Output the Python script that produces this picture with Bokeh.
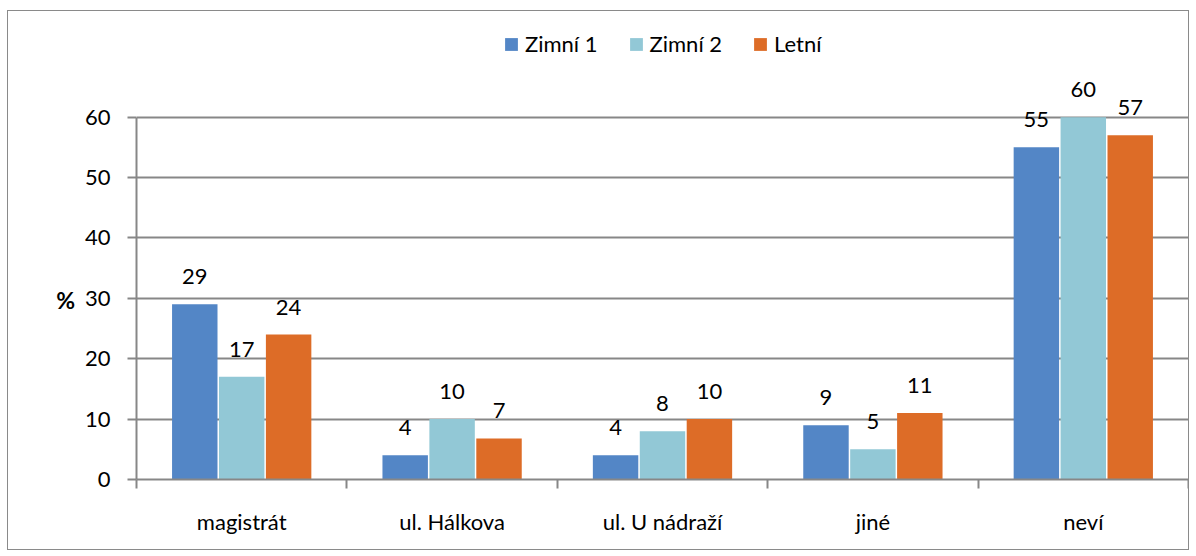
from bokeh.plotting import figure
from bokeh.models import (ColumnDataSource, Range1d, FixedTicker, LabelSet,
                          Legend, LegendItem)
from bokeh.core.properties import value
from bokeh.transform import dodge
from bokeh.embed import file_html
from bokeh.resources import INLINE

# ---- data ----
categories = ["magistrát", "ul. Hálkova", "ul. U nádraží", "jiné", "neví"]
zimni_1 = [29, 4, 4, 9, 55]
zimni_2 = [17, 10, 8, 5, 60]
letni = [24, 6.8, 10, 11, 57]
series_names = ["Zimní 1", "Zimní 2", "Letní"]
series_colors = ["#5386C6", "#92C8D6", "#DD6C27"]
y_ticks = [0, 10, 20, 30, 40, 50, 60]

FONT = "Lato"
GRAY = "#878787"

xs = [i + 0.5 for i in range(len(categories))]
data = dict(x=xs)
for name, vals in zip(["s0", "s1", "s2"], [zimni_1, zimni_2, letni]):
    data[name] = vals
    data[name + "_lbl"] = [str(int(round(v))) for v in vals]
source = ColumnDataSource(data)

p = figure(width=1182, height=540, output_backend="svg", toolbar_location=None,
           x_range=Range1d(0, len(categories)), y_range=Range1d(0, 76),
           min_border_left=128, min_border_right=2, min_border_top=9,
           min_border_bottom=72)
p.outline_line_color = None
p.styles = {"margin-left": "7px", "margin-top": "10px", "border": "1px solid #8a8a8a"}

offsets = [-0.223, 0.0, 0.223]
renderers = []
for k, (col, color, off) in enumerate(zip(["s0", "s1", "s2"], series_colors, offsets)):
    r = p.vbar(x=dodge("x", off, range=p.x_range), top=col, width=0.216, bottom=0,
               source=source, fill_color=color, line_color=None)
    renderers.append(r)
    lbl = LabelSet(x=dodge("x", off, range=p.x_range), y=col, text=col + "_lbl",
                   source=source, text_align="center", text_baseline="alphabetic",
                   y_offset=20, text_font=value(FONT), text_font_size="22px",
                   text_color="#000000")
    p.add_layout(lbl)

# x axis
xa = p.xaxis[0]
xa.ticker = FixedTicker(ticks=xs, minor_ticks=list(range(len(categories) + 1)))
xa.major_label_overrides = {x: c for x, c in zip(xs, categories)}
xa.major_tick_out = 0
xa.major_tick_in = 0
xa.minor_tick_out = 9
xa.minor_tick_in = 0
xa.minor_tick_line_color = GRAY
xa.minor_tick_line_width = 2
xa.axis_line_color = GRAY
xa.axis_line_width = 2
xa.major_label_standoff = 19
xa.major_label_text_font = FONT
xa.major_label_text_font_size = "22px"
xa.major_label_text_color = "#000000"

# y axis
ya = p.yaxis[0]
ya.bounds = (0, 60)
ya.ticker = FixedTicker(ticks=y_ticks, minor_ticks=[])
ya.major_tick_out = 9
ya.major_tick_in = 0
ya.major_tick_line_color = GRAY
ya.major_tick_line_width = 2
ya.axis_line_color = GRAY
ya.axis_line_width = 2
ya.major_label_standoff = 17
ya.major_label_text_font = FONT
ya.major_label_text_font_size = "22px"
ya.major_label_text_color = "#000000"
ya.axis_label = "\n\n\n%"
ya.axis_label_orientation = "horizontal"
ya.axis_label_standoff = 7
ya.axis_label_text_font = FONT
ya.axis_label_text_font_size = "23px"
ya.axis_label_text_font_style = "bold"
ya.axis_label_text_color = "#000000"

p.xgrid.visible = False
p.ygrid.ticker = FixedTicker(ticks=y_ticks)
p.ygrid.grid_line_color = GRAY
p.ygrid.grid_line_width = 2

legend = Legend(items=[LegendItem(label=n, renderers=[r]) for n, r in zip(series_names, renderers)],
                orientation="horizontal", location=(367, 422),
                glyph_width=16, glyph_height=16, label_standoff=6, spacing=30,
                label_text_font=FONT, label_text_font_size="22px",
                label_text_color="#000000", border_line_color=None,
                background_fill_alpha=0, padding=0, margin=0)
p.add_layout(legend)

open("out.html", "w").write(file_html(p, INLINE))
